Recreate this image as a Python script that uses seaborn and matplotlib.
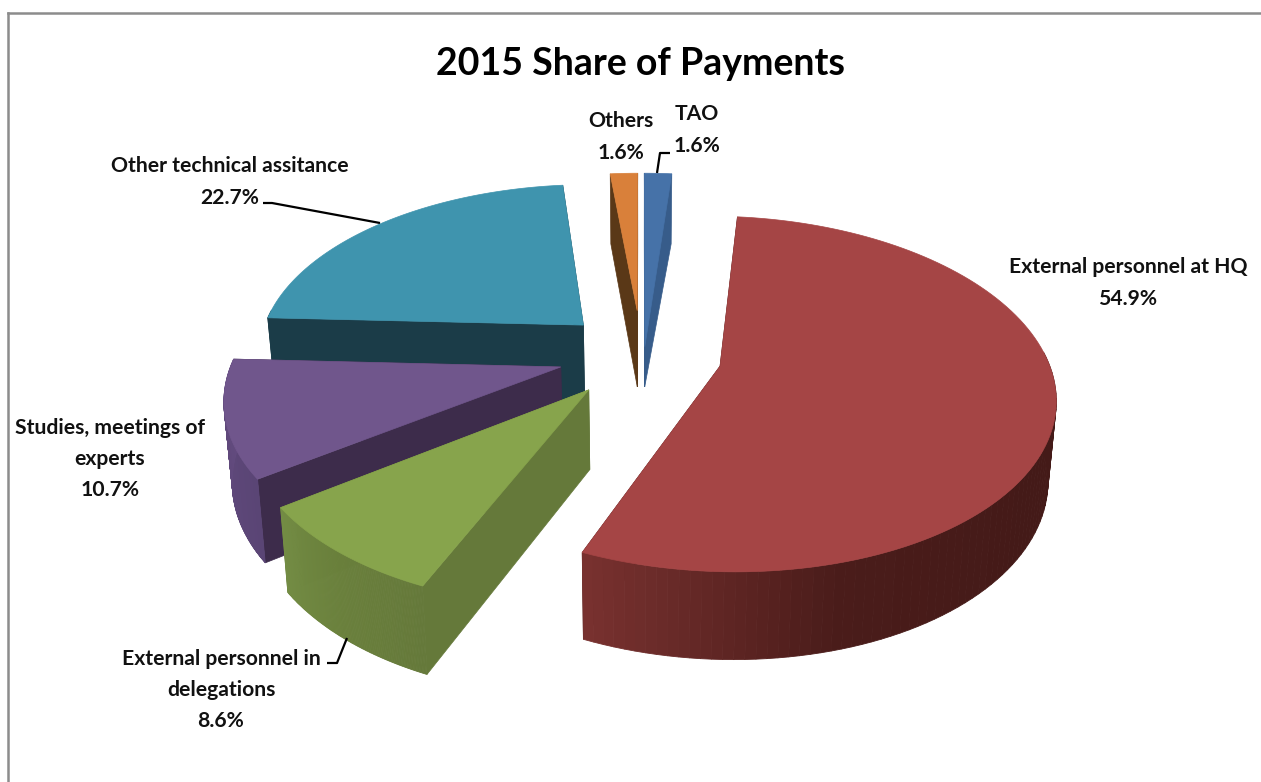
import numpy as np
import matplotlib
matplotlib.use('Agg')
import matplotlib.pyplot as plt
import seaborn as sns

# data, clockwise from 12 o'clock
names = ['TAO', 'External personnel at HQ', 'External personnel in\ndelegations',
         'Studies, meetings of\nexperts', 'Other technical assitance', 'Others']
shares = [1.6, 54.9, 8.6, 10.7, 22.7, 1.6]

# how far each slice is pulled out
explode = [0.24, 0.26, 0.276, 0.263, 0.236, 0.24]
tip_extra = [36, 0, 0, 0, 0, 0]
# small pixel corrections per slice
nudge = [(0, 0), (-4, 5), (6, 2), (3, 4), (-3, 2), (0, 0)]

top_colors = ['#4672A8', '#A54545', '#87A44C', '#70568C', '#3F94AE', '#D9803A']
cut_colors = ['#375C8A', '#441A18', '#65793A', '#3D2C4B', '#1B3C48', '#5A3817']
wall_colors = [['#375C8A', '#375C8A'],
               ['#441A18', '#441A18', '#4A1C1A', '#7A3230'],
               ['#65793A', '#6A803C', '#738C44'],
               ['#5A4575', '#634B7F'],
               ['#1B3C48', '#1B3C48'],
               ['#5A3817', '#5A3817']]
draw_order = [4, 5, 0, 1, 3, 2]

# label position (pixels) for each slice
label_pos = [(697, 130), (1128, 283), (221, 690), (110, 459), (230, 182), (621, 137)]

# leader lines
leaders = [([657, 660, 670], [173, 153, 153]),
           ([263, 272, 380], [203, 203, 223]),
           ([327, 337, 347], [663, 663, 638])]

# perspective of the pie plane
CX, CY = 641, 350
R, RQ, K = 326.5, 170, 0.155


def project(u, v):
    d = 1 + K * v
    return CX + R * u / d, CY - RQ * v / d


def drop(x, y):
    # vertical edges lean slightly inward and get longer towards the viewer
    return x + (CX - x) * 0.02, y + 70 + 0.0445 * (y - 173)


sns.set_theme(style='white')
plt.rcParams['font.family'] = ['Lato', 'DejaVu Sans']

fig = plt.figure(figsize=(12.61, 7.82), dpi=100)
ax = fig.add_axes([8 / 1261, 0, 1 - 8 / 1261, 1 - 13 / 782])
ax.set_xlim(8, 1261)
ax.set_ylim(782, 13)
ax.set_xticks([])
ax.set_yticks([])
sns.despine(ax=ax, top=False, right=True, bottom=True)
for side in ['top', 'left']:
    ax.spines[side].set_color('#8C8C8C')
    ax.spines[side].set_linewidth(1.8)

fractions = np.array(shares) / np.sum(shares) * 360
ends = 90 - np.cumsum(fractions)
starts = ends + fractions

for i in draw_order:
    t0, t1 = starts[i], ends[i]
    mid = np.radians((t0 + t1) / 2)
    au, av = explode[i] * np.cos(mid), explode[i] * np.sin(mid)
    ts = np.radians(np.linspace(t0, t1, 120))
    ox, oy = project(au + np.cos(ts), av + np.sin(ts))
    ax_px, ay_px = project(au, av)
    ox, oy = ox + nudge[i][0], oy + nudge[i][1]
    ax_px, ay_px = ax_px + nudge[i][0], ay_px + nudge[i][1]
    bx, by = drop(ox, oy)
    abx, aby = drop(ax_px, ay_px)

    # the two cut faces
    for j in [0, -1]:
        ax.fill([ax_px, ox[j], bx[j], abx], [ay_px, oy[j], by[j], aby],
                color=cut_colors[i], lw=0.5, zorder=1)

    # outer wall, only the part turned to the viewer
    front = np.where(np.sin(ts) < 0.1)[0]
    if len(front) > 1:
        pal = sns.blend_palette(wall_colors[i], len(front))
        for n, (a, b) in enumerate(zip(front[:-1], front[1:])):
            ax.fill([ox[a], ox[b], bx[b], bx[a]], [oy[a], oy[b], by[b], by[a]],
                    color=pal[n], lw=0.6)

    # top face
    ax.fill(np.r_[ax_px, ox], np.r_[ay_px + tip_extra[i], oy], color=top_colors[i], lw=0.5)

for lx, ly in leaders:
    ax.plot(lx, ly, color='black', lw=1.6, solid_capstyle='butt')

ax.text(640, 64, '2015 Share of Payments', ha='center', va='center',
        fontsize=27, fontweight='bold', color='black')

for name, share, (x, y) in zip(names, shares, label_pos):
    ax.text(x, y, f'{name}\n{share}%', ha='center', va='center', fontsize=15.2,
            fontweight='bold', color='#111111', linespacing=1.7)

fig.savefig('out.png', dpi=100, facecolor='white')
